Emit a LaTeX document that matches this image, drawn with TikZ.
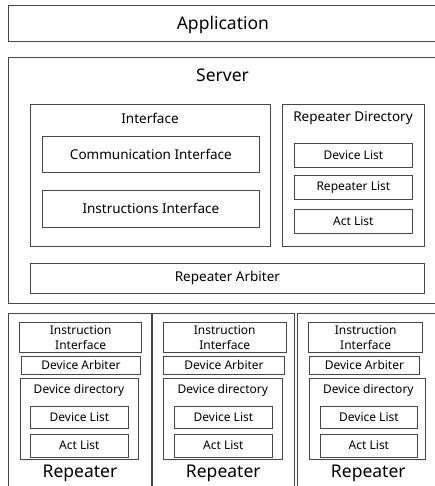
\documentclass[tikz,border=0pt]{standalone}
\usepackage{fontspec}
\setmainfont{Noto Sans}
\usetikzlibrary{positioning}
\tikzset{
  blockbox/.style={rectangle, draw=black!72, line width=0.8pt, inner sep=0pt,
    anchor=north west, align=center},
  titletext/.style={inner sep=0pt, font=\fontsize{17.5}{20}\selectfont},
  midtext/.style={font=\fontsize{13.5}{16}\selectfont},
  smalltext/.style={font=\fontsize{12}{14.5}\selectfont},
}

\begin{document}
\begin{tikzpicture}[x=1pt, y=-1pt]
  \clip (0,0) rectangle (435,486);

  % Application and server (both run past the right border)
  \node[blockbox, titletext, text depth=0pt, minimum width=429pt, minimum height=36pt] (app) at (8,4.7) {Application};
  \node[blockbox, minimum width=429pt, minimum height=246pt] (server) at (8,57) {};
  \node[titletext] (servertitle) at (222.5,75) {Server};

  % Interface group
  \node[blockbox, minimum width=240pt, minimum height=142pt] (iface) at (30,104) {};
  \node[midtext] (ifacetitle) at (150,118) {Interface};
  \node[blockbox, midtext, minimum width=217pt, minimum height=36.3pt] (comm) at (42,135.7) {Communication Interface};
  \node[blockbox, midtext, minimum width=217pt, minimum height=36.7pt] (instr) at (42,190) {Instructions Interface};

  % Repeater directory
  \node[blockbox, minimum width=142pt, minimum height=142pt] (repdir) at (282,104) {};
  \node[midtext] (repdirtitle) at (353,118) {Repeater Directory};
  \node[blockbox, smalltext, minimum width=118pt, minimum height=24.6pt] (devlist) at (294,142.7) {Device List};
  \node[blockbox, smalltext, minimum width=118pt, minimum height=24pt] (replist) at (294,175.3) {Repeater List};
  \node[blockbox, smalltext, minimum width=118pt, minimum height=24.6pt] (actlist) at (294,208.7) {Act List};

  \node[blockbox, midtext, minimum width=394pt, minimum height=29.4pt] (reparb) at (30,263.3) {Repeater Arbiter};

  % Repeater 1
  \node[blockbox, minimum width=142.7pt, minimum height=180pt] (rep1) at (8,312.7) {};
  \node[blockbox, smalltext, minimum width=122pt, minimum height=30.3pt] (rep1instr) at (19.3,322) {Instruction\\Interface};
  \node[blockbox, smalltext, minimum width=119.6pt, minimum height=18pt] (rep1arb) at (20.7,356) {Device Arbiter};
  \node[blockbox, minimum width=117.4pt, minimum height=81pt] (rep1dir) at (20.3,377.7) {};
  \node[smalltext] (rep1dirtitle) at (79,390) {Device directory};
  \node[blockbox, smalltext, minimum width=97.4pt, minimum height=22.6pt] (rep1dev) at (30.3,405.7) {Device List};
  \node[blockbox, smalltext, minimum width=97.4pt, minimum height=23pt] (rep1act) at (30.3,433.7) {Act List};
  \node[titletext] (rep1title) at (80,473) {Repeater};

  % Repeater 2
  \node[blockbox, minimum width=141.7pt, minimum height=180pt] (rep2) at (152.3,312.7) {};
  \node[blockbox, smalltext, minimum width=123.3pt, minimum height=30.3pt] (rep2instr) at (162.7,322) {Instruction\\Interface};
  \node[blockbox, smalltext, minimum width=120.7pt, minimum height=18pt] (rep2arb) at (163.3,356) {Device Arbiter};
  \node[blockbox, minimum width=119pt, minimum height=81.3pt] (rep2dir) at (163.3,377.7) {};
  \node[smalltext] (rep2dirtitle) at (222.8,390) {Device directory};
  \node[blockbox, smalltext, minimum width=97.4pt, minimum height=22.6pt] (rep2dev) at (174.3,405.7) {Device List};
  \node[blockbox, smalltext, minimum width=97.4pt, minimum height=23pt] (rep2act) at (174.3,433.7) {Act List};
  \node[titletext] (rep2title) at (223.3,473) {Repeater};

  % Repeater 3 (runs past the right border)
  \node[blockbox, minimum width=142.7pt, minimum height=180pt] (rep3) at (297.3,312.7) {};
  \node[blockbox, smalltext, minimum width=114pt, minimum height=30.3pt] (rep3instr) at (308.3,322) {Instruction\\Interface};
  \node[blockbox, smalltext, minimum width=109.4pt, minimum height=18pt] (rep3arb) at (309.3,356) {Device Arbiter};
  \node[blockbox, minimum width=115.7pt, minimum height=81.3pt] (rep3dir) at (309.3,377.7) {};
  \node[smalltext] (rep3dirtitle) at (368.3,390) {Device directory};
  \node[blockbox, smalltext, minimum width=96.4pt, minimum height=22.6pt] (rep3dev) at (320.3,405.7) {Device List};
  \node[blockbox, smalltext, minimum width=96.4pt, minimum height=23pt] (rep3act) at (320.3,433.7) {Act List};
  \node[titletext] (rep3title) at (368.3,473) {Repeater};
\end{tikzpicture}
\end{document}
